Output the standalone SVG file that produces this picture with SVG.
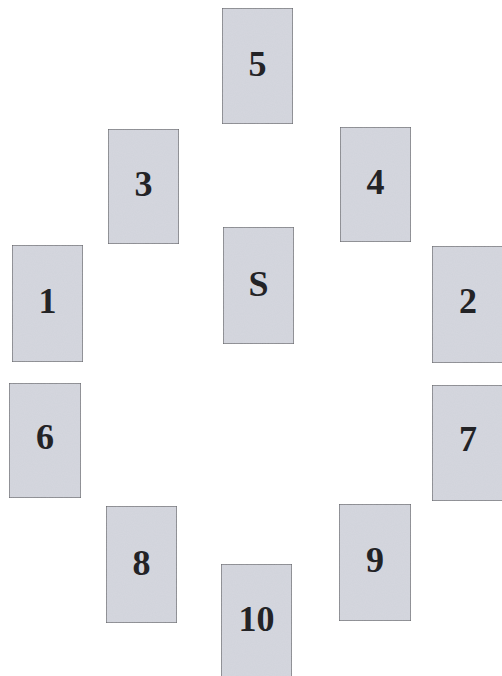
<svg xmlns="http://www.w3.org/2000/svg" width="502" height="676" viewBox="0 0 502 676">
<defs>
<filter id="grain" x="0" y="0" width="100%" height="100%">
<feTurbulence type="fractalNoise" baseFrequency="0.9" numOctaves="2" seed="3" result="n"/>
<feColorMatrix in="n" type="matrix" values="0 0 0 0 0.5  0 0 0 0 0.5  0 0 0 0 0.55  0 0 0 0.18 0" result="g"/>
<feComposite in="g" in2="SourceGraphic" operator="atop"/>
</filter>
</defs>
<style>
.card rect{fill:#d5d7df;stroke:#5a5a5e;stroke-width:1.2}
.card text{font-family:"Liberation Serif","Times New Roman",serif;font-weight:bold;font-size:36px;fill:#232326;text-anchor:middle}
</style>
<rect width="502" height="676" fill="#ffffff"/>
<g id="card-5" class="card"><rect x="222" y="8" width="71" height="116" filter="url(#grain)"/><text x="257.5" y="76">5</text></g>
<g id="card-3" class="card"><rect x="108" y="129" width="71" height="115" filter="url(#grain)"/><text x="143.5" y="196">3</text></g>
<g id="card-4" class="card"><rect x="340" y="127" width="71" height="115" filter="url(#grain)"/><text x="375.5" y="194">4</text></g>
<g id="card-S" class="card"><rect x="223" y="227" width="71" height="117" filter="url(#grain)"/><text x="258.5" y="296">S</text></g>
<g id="card-1" class="card"><rect x="12" y="245" width="71" height="117" filter="url(#grain)"/><text x="47.5" y="313">1</text></g>
<g id="card-2" class="card"><rect x="432" y="246" width="72" height="117" filter="url(#grain)"/><text x="468" y="313">2</text></g>
<g id="card-6" class="card"><rect x="9" y="383" width="72" height="115" filter="url(#grain)"/><text x="45" y="449">6</text></g>
<g id="card-7" class="card"><rect x="432" y="385" width="72" height="116" filter="url(#grain)"/><text x="468" y="451">7</text></g>
<g id="card-8" class="card"><rect x="106" y="506" width="71" height="117" filter="url(#grain)"/><text x="141.5" y="575">8</text></g>
<g id="card-9" class="card"><rect x="339" y="504" width="72" height="117" filter="url(#grain)"/><text x="375" y="572">9</text></g>
<g id="card-10" class="card"><rect x="221" y="564" width="71" height="115" filter="url(#grain)"/><text x="256.5" y="631">10</text></g>
<g id="connectors"/>
</svg>
